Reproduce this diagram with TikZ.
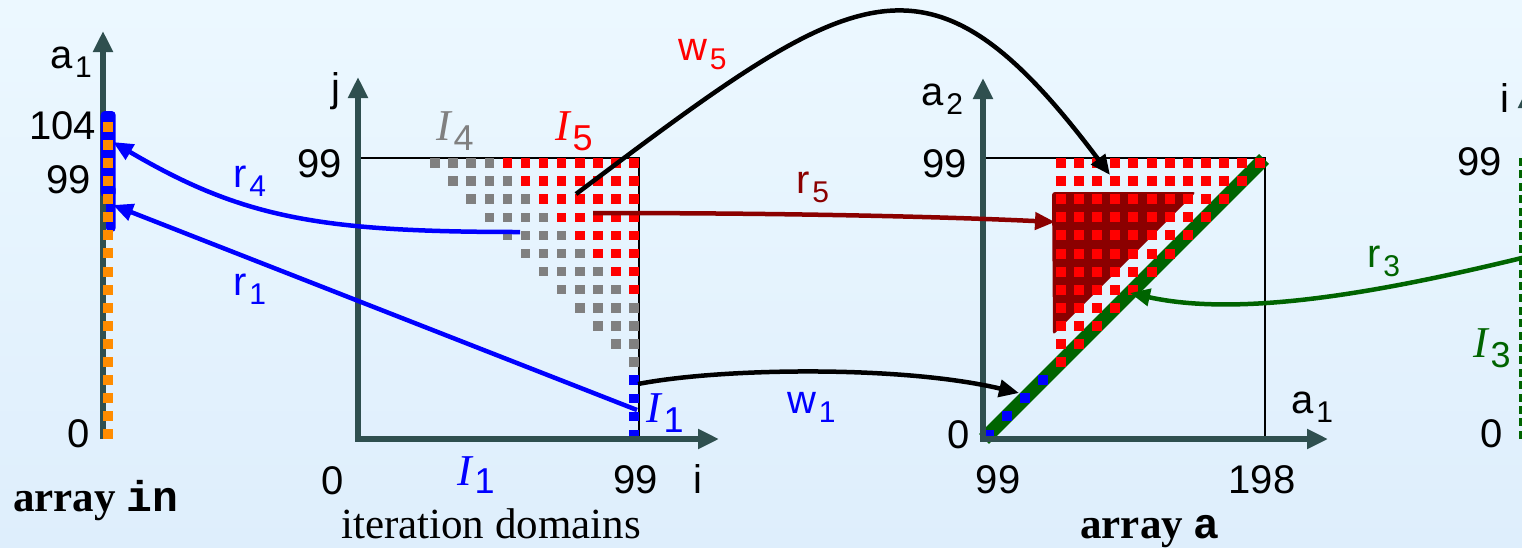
\documentclass[tikz,border=0pt]{standalone}
\usepackage{fontspec}
\setmainfont{Liberation Serif}
\setmonofont{Liberation Mono}
\newfontfamily\lsans{Liberation Sans}
\usetikzlibrary{arrows.meta}
\definecolor{axisc}{RGB}{47,79,79}
\definecolor{dred}{RGB}{139,0,0}
\definecolor{dgreen}{RGB}{0,100,0}
\definecolor{orng}{RGB}{255,140,0}
\definecolor{dgray}{RGB}{128,128,128}
\definecolor{bgtop}{RGB}{236,248,255}
\definecolor{bgbot}{RGB}{222,238,252}
\newcommand\SL[2]{#1\kern3pt\raisebox{-9pt}{\fontsize{30}{30}\selectfont #2}}
\newcommand\IL[2][-10pt]{{\fontsize{44}{44}\selectfont\rmfamily\itshape I}\kern3pt\raisebox{#1}{\fontsize{36}{36}\selectfont #2}}
\begin{document}
\begin{tikzpicture}[x=1pt,y=-1pt,
  lbl/.style={font=\lsans\fontsize{40}{48}\selectfont, inner sep=0pt, outer sep=0pt},
  ttl/.style={font=\rmfamily\fontsize{43}{50}\selectfont, inner sep=0pt, outer sep=0pt},
  axisline/.style={draw=axisc, line width=5.5pt},
  ahead/.style={-{Triangle[length=21pt,width=19pt]}},
  bhead/.style={{Triangle[length=21pt,width=19pt]}-{Triangle[length=21pt,width=19pt]}},
  frame/.style={draw=black, line width=1.3pt},
  conn/.style={line width=4.5pt, -{Triangle[length=20pt,width=17pt]}},
]
\useasboundingbox (0,0) rectangle (1522,547);
\clip (0,0) rectangle (1522,547);
\shade[top color=bgtop, bottom color=bgbot] (0,0) rectangle (1522,547);

% ---------- coordinates ----------
\coordinate (ainO) at (103,439);
\coordinate (ainT) at (103,31);
\coordinate (itO) at (358,439);
\coordinate (itJ) at (358,77);
\coordinate (itI) at (719,439);
\coordinate (itF1) at (358,158);
\coordinate (itF2) at (639,158);
\coordinate (itF3) at (639,439);
\coordinate (aO) at (983,439);
\coordinate (aA2) at (983,78);
\coordinate (aA1) at (1328,439);
\coordinate (aF1) at (983,158);
\coordinate (aF2) at (1265,158);
\coordinate (aF3) at (1265,439);
\coordinate (dS) at (984,439);
\coordinate (dE) at (1264,159);
\coordinate (rO) at (1528,439);
\coordinate (rT) at (1528,87);

% ---------- array in ----------
\draw[axisline, ahead] (ainO) -- (ainT);
\fill[blue, rounded corners=4pt] (100.7,111) rectangle (115.7,197);
\fill[blue, rounded corners=4pt] (106,185) rectangle (115.7,232);
\foreach \k in {0,...,17}{
  \fill[orng] (102.7,{121.7+18.1*\k}) rectangle ++(10,10);
}
\node[lbl, anchor=base west] (ainA1) at (50,68) {\SL{a}{1}};
\node[lbl, anchor=base east] (ain104) at (96,139) {104};
\node[lbl, anchor=base east] (ain99) at (91,193) {99};
\node[lbl, anchor=base east] (ain0) at (90,447) {0};
\node[ttl, anchor=base west] (ainT1) at (13,511) {\bfseries array \texttt{in}};

% ---------- iteration domains ----------
\draw[frame] (itF1) -- (itF2) -- (itF3);
\foreach \r in {0,...,11}{
  \foreach \c in {0,...,11}{
    \pgfmathtruncatemacro\d{\c-\r}
    \ifnum\d<0 \else
      \ifnum\d<4
        \fill[dgray] ({435+18.1*\c-4.75},{163+18.1*\r-4.75}) rectangle ++(9.5,9.5);
      \else
        \fill[red] ({435+18.1*\c-4.75},{163+18.1*\r-4.75}) rectangle ++(9.5,9.5);
      \fi
    \fi
  }
}
\foreach \r in {12,...,15}{
  \fill[blue] ({435+18.1*11-4.75},{163+18.1*\r-4.75}) rectangle ++(9.5,9.5);
}
\draw[axisline, bhead] (itJ) -- (itO) -- (itI);
\node[lbl, anchor=base west] (itj) at (331,101) {j};
\node[lbl, anchor=base east] (it99) at (342,177) {99};
\node[lbl, anchor=base west, text=dgray] (itI4) at (436,140) {\IL{4}};
\node[lbl, anchor=base west, text=red] (itI5) at (555,140) {\IL{5}};
\node[lbl, anchor=base west, text=blue] (itI1r) at (646,422) {\IL{1}};
\node[lbl, anchor=base] (it0) at (333,494) {0};
\node[lbl, anchor=base west, text=blue] (itI1b) at (457,485) {\IL[-8pt]{1}};
\node[lbl, anchor=base east] (it99b) at (658,493) {99};
\node[lbl, anchor=base west] (iti) at (693,493) {i};
\node[ttl, anchor=base] (itT) at (491,538) {iteration domains};

% ---------- array a ----------
\draw[frame] (aF1) -- (aF2) -- (aF3);
\fill[dred, rounded corners=3pt] (1052,192) -- (1196,192) -- (1053,335) -- cycle;
\draw[dgreen, line width=14pt] (dS) -- (dE);
\foreach \r in {0,...,11}{
  \pgfmathtruncatemacro\m{11-\r}
  \foreach \c in {0,...,\m}{
    \fill[red] ({1061+18.1*\c-5},{163+18.1*\r-5}) rectangle ++(10,10);
  }
}
\foreach \r in {12,...,15}{
  \fill[blue] ({1061+18.1*(11-\r)-5},{163+18.1*\r-5}) rectangle ++(10,10);
}
\draw[axisline, bhead] (aA2) -- (aO) -- (aA1);
\node[lbl, anchor=base west] (aa2) at (921,105) {\SL{a}{2}};
\node[lbl, anchor=base east] (a99) at (967,177) {99};
\node[lbl, anchor=base east] (a0) at (970,448) {0};
\node[lbl, anchor=base west] (aa1) at (1291,413) {\SL{a}{1}};
\node[lbl, anchor=base] (a99b) at (998,493) {99};
\node[lbl, anchor=base] (a198) at (1262,493) {198};
\node[ttl, anchor=base] (aT) at (1150,538) {\bfseries array \texttt{a}};

% ---------- right partial domain ----------
\draw[axisline, ahead] (rO) -- (rT);
\foreach \k in {0,...,22}{
  \fill[dgreen] (1518.5,{158+12.4*\k}) rectangle ++(10,8);
}
\node[lbl, anchor=base west] (ri) at (1500,112) {i};
\node[lbl, anchor=base east] (r99) at (1502,175) {99};
\node[lbl, anchor=base east] (r0) at (1503,447) {0};
\node[lbl, anchor=base west, text=dgreen] (rI3) at (1473,357) {\IL{3}};

% ---------- connectors ----------
\coordinate (r4s) at (520,232);
\coordinate (r4e) at (113,142);
\coordinate (r1s) at (637,410);
\coordinate (r1e) at (113,205);
\coordinate (w5s) at (576,194);
\coordinate (w5e) at (1110,175);
\coordinate (r5s) at (593,213);
\coordinate (r5e) at (1055,222);
\coordinate (w1s) at (638,384);
\coordinate (w1e) at (1019,393);
\coordinate (r3s) at (1530,256);
\coordinate (r3e) at (1130,293);
\draw[conn, blue] (r4s) .. controls (320,232) and (242,218) .. (r4e);
\draw[conn, blue] (r1s) -- (r1e);
\draw[conn, black] (w5s) .. controls (857,-17) and (927,-69) .. (w5e);
\draw[conn, dred] (r5s) .. controls (800,213) and (950,217) .. (r5e);
\draw[conn, black] (w1s) .. controls (720,368) and (900,365) .. (w1e);
\draw[conn, dgreen] (r3s) .. controls (1399,288) and (1247,319) .. (r3e);

\node[lbl, anchor=base west, text=blue] (lr4) at (233,187) {\SL{r}{4}};
\node[lbl, anchor=base west, text=blue] (lr1) at (233,295) {\SL{r}{1}};
\node[lbl, anchor=base west, text=red] (lw5) at (678,60) {\SL{w}{5}};
\node[lbl, anchor=base west, text=dred] (lr5) at (796,193) {\SL{r}{5}};
\node[lbl, anchor=base west, text=blue] (lw1) at (787,413) {\SL{w}{1}};
\node[lbl, anchor=base west, text=dgreen] (lr3) at (1367,267) {\SL{r}{3}};
\end{tikzpicture}
\end{document}
